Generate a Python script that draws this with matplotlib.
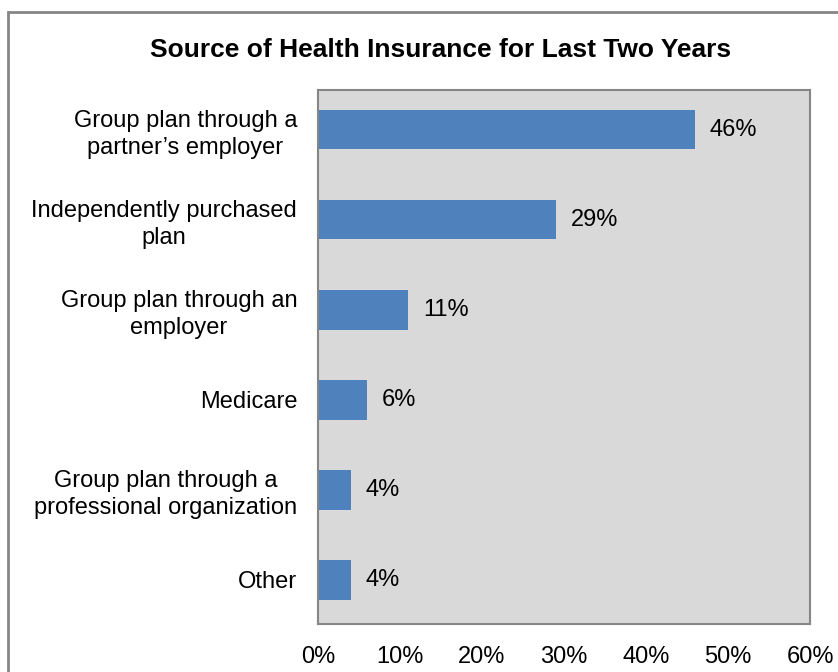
import numpy as np
import matplotlib.pyplot as plt
from matplotlib.patches import Rectangle

plt.rcParams['font.family'] = ['Liberation Sans', 'DejaVu Sans']

# survey categories, top to bottom
categories = ["Group plan through a\npartner\u2019s employer",
              "Independently purchased\nplan",
              "Group plan through an\nemployer",
              "Medicare",
              "Group plan through a\nprofessional organization",
              "Other"]
percent = [46, 29, 11, 6, 4, 4]
xticks = [0, 10, 20, 30, 40, 50, 60]

W, H = 838, 672
fig = plt.figure(figsize=(W / 100, H / 100), dpi=100)

# outer chart frame (runs off the right and bottom edges)
fig.patches.append(Rectangle((8 / W, -0.05), 1.1, 1 - 12 / H + 0.05,
                             transform=fig.transFigure, fill=False,
                             edgecolor='#868686', linewidth=2))

left, right, top, bottom = 318, 810, 90, 624
ax = fig.add_axes([left / W, 1 - bottom / H, (right - left) / W, (bottom - top) / H])
ax.set_facecolor('#d9d9d9')

y = np.arange(len(categories))
ax.barh(y, percent, height=0.44, color='#4f81bd')
for yi, v in zip(y, percent):
    ax.text(v + 1.8, yi, "%d%%" % v, va='center', ha='left', fontsize=17)

ax.set_xlim(0, 60)
ax.set_ylim(len(categories) - 0.51, -0.44)
ax.set_yticks(y)
ax.set_yticklabels(categories, fontsize=17, ha='right', multialignment='center',
                   linespacing=1.3)
ax.set_xticks(xticks)
ax.set_xticklabels(["%d%%" % t for t in xticks], fontsize=17)
ax.tick_params(axis='both', length=0)
ax.tick_params(axis='x', pad=16)
ax.tick_params(axis='y', pad=15)
for s in ax.spines.values():
    s.set_color('#868686')
    s.set_linewidth(1.5)

fig.text(441 / W, 1 - 50 / H, "Source of Health Insurance for Last Two Years",
         ha='center', va='center', fontsize=19, fontweight='bold')

fig.savefig("out.png", dpi=100)
